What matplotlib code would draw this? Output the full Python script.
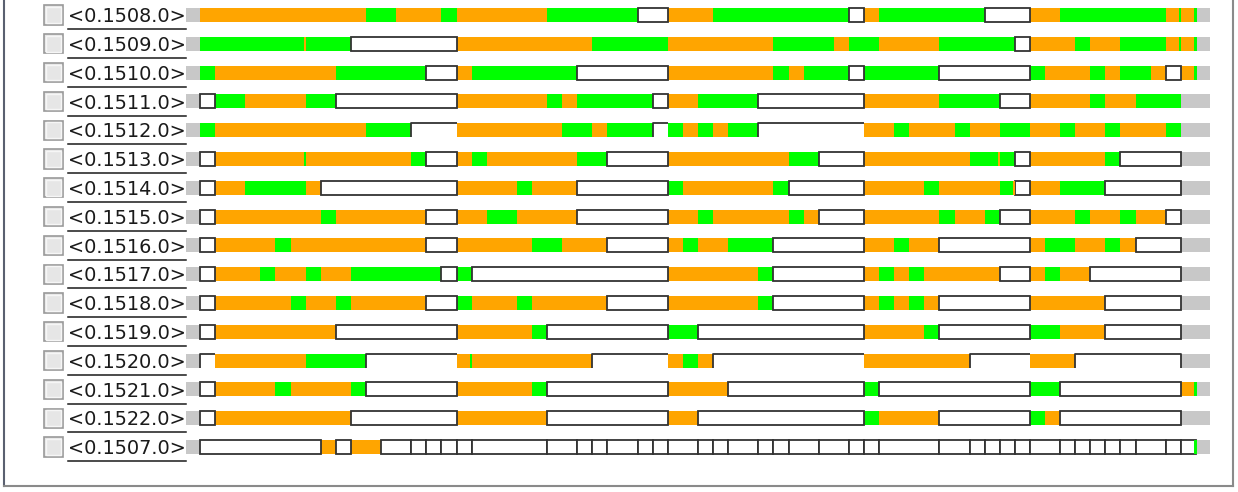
import matplotlib.pyplot as plt
from matplotlib.patches import Rectangle
from matplotlib.lines import Line2D

# row labels, top to bottom
labels = ['<0.1508.0>', '<0.1509.0>', '<0.1510.0>', '<0.1511.0>',
          '<0.1512.0>', '<0.1513.0>', '<0.1514.0>', '<0.1515.0>',
          '<0.1516.0>', '<0.1517.0>', '<0.1518.0>', '<0.1519.0>',
          '<0.1520.0>', '<0.1521.0>', '<0.1522.0>', '<0.1507.0>']

# segments as (state, length in time slots)
# o = running (orange), g = runnable (green), w = waiting (boxed), e = open wait
# a length of 0 is a very short event
seg_1508 = [('o', 11), ('g', 2), ('o', 3), ('g', 1), ('o', 6), ('g', 6), ('w', 2), ('o', 3),
            ('g', 9), ('w', 1), ('o', 1), ('g', 7), ('w', 3), ('o', 2), ('g', 7), ('o', 1),
            ('g', 0), ('o', 1), ('g', 0)]
seg_1509 = [('g', 7), ('o', 0), ('g', 3), ('w', 7), ('o', 9), ('g', 5), ('o', 7), ('g', 4),
            ('o', 1), ('g', 2), ('o', 4), ('g', 5), ('w', 1), ('o', 3), ('g', 1), ('o', 2),
            ('g', 3), ('o', 1), ('g', 0), ('o', 1), ('g', 0)]
seg_1510 = [('g', 1), ('o', 8), ('g', 6), ('w', 2), ('o', 1), ('g', 7), ('w', 6), ('o', 7),
            ('g', 1), ('o', 1), ('g', 3), ('w', 1), ('g', 5), ('w', 6), ('g', 1), ('o', 3),
            ('g', 1), ('o', 1), ('g', 2), ('o', 1), ('w', 1), ('o', 1), ('g', 0)]
seg_1511 = [('w', 1), ('g', 2), ('o', 4), ('g', 2), ('w', 8), ('o', 6), ('g', 1), ('o', 1),
            ('g', 5), ('w', 1), ('o', 2), ('g', 4), ('w', 7), ('o', 5), ('g', 4), ('w', 2),
            ('o', 4), ('g', 1), ('o', 2), ('g', 3)]
seg_1512 = [('g', 1), ('o', 10), ('g', 3), ('e', 3), ('o', 7), ('g', 2), ('o', 1), ('g', 3),
            ('e', 1), ('g', 1), ('o', 1), ('g', 1), ('o', 1), ('g', 2), ('e', 7), ('o', 2),
            ('g', 1), ('o', 3), ('g', 1), ('o', 2), ('g', 2), ('o', 2), ('g', 1), ('o', 2),
            ('g', 1), ('o', 3), ('g', 1)]
seg_1513 = [('w', 1), ('o', 6), ('g', 0), ('o', 7), ('g', 1), ('w', 2), ('o', 1), ('g', 1),
            ('o', 6), ('g', 2), ('w', 4), ('o', 8), ('g', 2), ('w', 3), ('o', 7), ('g', 2),
            ('o', 0), ('g', 1), ('w', 1), ('o', 5), ('g', 1), ('w', 4)]
seg_1514 = [('w', 1), ('o', 2), ('g', 4), ('o', 1), ('w', 9), ('o', 4), ('g', 1), ('o', 3),
            ('w', 6), ('g', 1), ('o', 6), ('g', 1), ('w', 5), ('o', 4), ('g', 1), ('o', 4),
            ('g', 1), ('o', 0), ('w', 1), ('o', 2), ('g', 3), ('w', 5)]
seg_1515 = [('w', 1), ('o', 7), ('g', 1), ('o', 6), ('w', 2), ('o', 2), ('g', 2), ('o', 4),
            ('w', 6), ('o', 2), ('g', 1), ('o', 5), ('g', 1), ('o', 1), ('w', 3), ('o', 5),
            ('g', 1), ('o', 2), ('g', 1), ('w', 2), ('o', 3), ('g', 1), ('o', 2), ('g', 1),
            ('o', 2), ('w', 1)]
seg_1516 = [('w', 1), ('o', 4), ('g', 1), ('o', 9), ('w', 2), ('o', 5), ('g', 2), ('o', 3),
            ('w', 4), ('o', 1), ('g', 1), ('o', 2), ('g', 3), ('w', 6), ('o', 2), ('g', 1),
            ('o', 2), ('w', 6), ('o', 1), ('g', 2), ('o', 2), ('g', 1), ('o', 1), ('w', 3)]
seg_1517 = [('w', 1), ('o', 3), ('g', 1), ('o', 2), ('g', 1), ('o', 2), ('g', 6), ('w', 1),
            ('g', 1), ('w', 13), ('o', 6), ('g', 1), ('w', 6), ('o', 1), ('g', 1), ('o', 1),
            ('g', 1), ('o', 5), ('w', 2), ('o', 1), ('g', 1), ('o', 2), ('w', 6)]
seg_1518 = [('w', 1), ('o', 5), ('g', 1), ('o', 2), ('g', 1), ('o', 5), ('w', 2), ('g', 1),
            ('o', 3), ('g', 1), ('o', 5), ('w', 4), ('o', 6), ('g', 1), ('w', 6), ('o', 1),
            ('g', 1), ('o', 1), ('g', 1), ('o', 1), ('w', 6), ('o', 5), ('w', 5)]
seg_1519 = [('w', 1), ('o', 8), ('w', 8), ('o', 5), ('g', 1), ('w', 8), ('g', 2), ('w', 11),
            ('o', 4), ('g', 1), ('w', 6), ('g', 2), ('o', 3), ('w', 5)]
seg_1520 = [('e', 1), ('o', 6), ('g', 4), ('e', 6), ('o', 1), ('g', 0), ('o', 8), ('e', 5),
            ('o', 1), ('g', 1), ('o', 1), ('e', 10), ('o', 7), ('e', 4), ('o', 3), ('e', 7)]
seg_1521 = [('w', 1), ('o', 4), ('g', 1), ('o', 4), ('g', 1), ('w', 6), ('o', 5), ('g', 1),
            ('w', 8), ('o', 4), ('w', 9), ('g', 1), ('w', 10), ('g', 2), ('w', 8), ('o', 1),
            ('g', 0)]
seg_1522 = [('w', 1), ('o', 9), ('w', 7), ('o', 6), ('w', 8), ('o', 2), ('w', 11), ('g', 1),
            ('o', 4), ('w', 6), ('g', 1), ('o', 1), ('w', 8)]
seg_1507 = [('w', 8), ('o', 1), ('w', 1), ('o', 2), ('w', 2), ('w', 1), ('w', 1), ('w', 1),
            ('w', 1), ('w', 5), ('w', 2), ('w', 1), ('w', 1), ('w', 2), ('w', 1), ('w', 1),
            ('w', 2), ('w', 1), ('w', 1), ('w', 2), ('w', 1), ('w', 1), ('w', 2), ('w', 2),
            ('w', 1), ('w', 1), ('w', 4), ('w', 2), ('w', 1), ('w', 1), ('w', 1), ('w', 1),
            ('w', 2), ('w', 1), ('w', 1), ('w', 1), ('w', 1), ('w', 1), ('w', 2), ('w', 1),
            ('w', 1), ('g', 0)]

rows = [seg_1508, seg_1509, seg_1510, seg_1511, seg_1512, seg_1513, seg_1514, seg_1515,
        seg_1516, seg_1517, seg_1518, seg_1519, seg_1520, seg_1521, seg_1522, seg_1507]

total_slots = 66.95

colors = {'o': '#ffa500', 'g': '#00ff00', 'w': 'white', 'e': 'white'}
edge = '#333333'
gray = '#c8c8c8'

W, H = 1238, 492
slot_px = 15.09
row_px = 28.8
x0_px, y0_px = 200, 15

fig = plt.figure(figsize=(W / 100, H / 100), dpi=100)
ax = fig.add_axes([0, 0, 1, 1])
ax.set_xlim(-x0_px / slot_px, (W - x0_px) / slot_px)
ax.set_ylim((H - y0_px) / row_px, -y0_px / row_px)
ax.axis('off')

bh = 14 / row_px
lw = 1.3

for i, segs in enumerate(rows):
    end = sum(n for _, n in segs)
    ax.barh(i, 0.9, left=-0.9, height=bh, color=gray, lw=0, zorder=1)
    ax.barh(i, total_slots - end, left=end, height=bh, color=gray, lw=0, zorder=1)
    x = 0
    for k, (state, n) in enumerate(segs):
        if n == 0:
            ax.barh(i, 0.14, left=x - 0.1, height=bh, color=colors[state], lw=0, zorder=4)
            continue
        if state in 'og':
            ax.barh(i, n, left=x, height=bh, color=colors[state], lw=0, zorder=2)
        elif state == 'w':
            ax.barh(i, n, left=x, height=bh, color='white', edgecolor=edge, lw=lw, zorder=3)
        else:
            ax.barh(i, n, left=x, height=bh, color='white', lw=0, zorder=2)
            xs = [x, x, x + n]
            ys = [i + bh / 2, i - bh / 2, i - bh / 2]
            if k == len(segs) - 1:
                xs.append(x + n)
                ys.append(i + bh / 2)
            ax.plot(xs, ys, color=edge, lw=lw, zorder=3, solid_capstyle='butt')
        x += n

# checkboxes and labels
texts = []
for i, label in enumerate(labels):
    ax.add_patch(Rectangle((-10.33, i - 0.33), 1.26, 0.66, facecolor='#e6e6e6',
                           edgecolor='#999999', lw=1.2, zorder=2))
    ax.add_patch(Rectangle((-10.22, i - 0.27), 1.04, 0.54, facecolor='none',
                           edgecolor='#f6f6f6', lw=1.0, zorder=3))
    t = ax.text(-0.95, i + 0.06, label, ha='right', va='center', fontsize=13.9,
                color='#1a1a1a', family='DejaVu Sans')
    texts.append(t)

# underline the labels
fig.canvas.draw()
r = fig.canvas.get_renderer()
inv = ax.transData.inverted()
for t in texts:
    bb = t.get_window_extent(renderer=r)
    (xa, ya), (xb, _) = inv.transform([(bb.x0, bb.y0 - 3), (bb.x1, bb.y0 - 3)])
    ax.plot([xa, xb], [ya, ya], color='#1a1a1a', lw=1.1)

# panel frame
fig.add_artist(Line2D([3.5 / W, 3.5 / W], [1, 1 - 486 / H], color='#5a6070', lw=1.5))
fig.add_artist(Line2D([3.5 / W, 1233 / W], [1 - 486 / H, 1 - 486 / H], color='#8a8a8a', lw=1.5))
fig.add_artist(Line2D([1233 / W, 1233 / W], [1, 1 - 486 / H], color='#8a8a8a', lw=1.5))

fig.savefig('out.png', dpi=100)
